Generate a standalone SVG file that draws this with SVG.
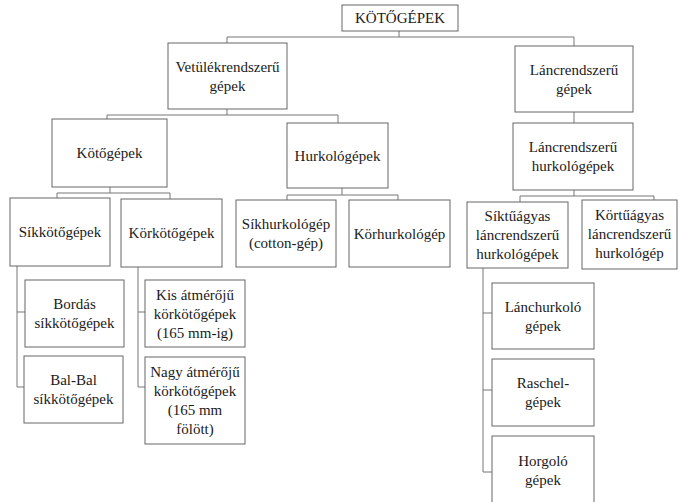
<svg xmlns="http://www.w3.org/2000/svg" width="679" height="502" viewBox="0 0 679 502">
<style>
rect{fill:#fff;stroke:#666;stroke-width:1}
text{font-family:"Liberation Serif","Times New Roman",serif;font-size:15px;fill:#1a1a1a;text-anchor:middle;dominant-baseline:central}
#connectors path{fill:none;stroke:#777;stroke-width:1}
</style>
<rect x="0" y="0" width="679" height="502" style="stroke:none"/>
<g id="connectors">
<path d="M399,31V37M227,37H574M227,37V43M574,37V46"/>
<path d="M227,109V115M107,115H338M107,115V119M338,115V123"/>
<path d="M110,187V193M57,193H170M57,193V198M170,193V199"/>
<path d="M342,188V195M287,195H398M287,195V200M398,195V200"/>
<path d="M574,112V123"/>
<path d="M574,190V196M520,196H654M520,196V202M654,196V200"/>
<path d="M17,266V387M17,312H25M17,387H24"/>
<path d="M138,267V387M138,312H145M138,387H145"/>
<path d="M483,268V472M483,313H492M483,390H492M483,472H492"/>
</g>
<g id="title"><rect x="342" y="5" width="116" height="26"/><text x="400" y="18">KÖTŐGÉPEK</text></g>
<g id="vetulek"><rect x="168" y="43" width="119" height="66"/><text x="227.5" y="67">Vetülékrendszerű</text><text x="227.5" y="86">gépek</text></g>
<g id="lanc"><rect x="515" y="46" width="118" height="66"/><text x="574" y="70">Láncrendszerű</text><text x="574" y="89">gépek</text></g>
<g id="kotogepek"><rect x="52" y="119" width="115" height="68"/><text x="109.5" y="153">Kötőgépek</text></g>
<g id="hurkologepek"><rect x="287" y="123" width="101" height="65"/><text x="337.5" y="155.5">Hurkológépek</text></g>
<g id="lanchurk"><rect x="513" y="123" width="120" height="67"/><text x="573" y="147">Láncrendszerű</text><text x="573" y="166">hurkológépek</text></g>
<g id="sikkoto"><rect x="10" y="198" width="100" height="68"/><text x="60" y="232">Síkkötőgépek</text></g>
<g id="korkoto"><rect x="121" y="199" width="101" height="68"/><text x="171.5" y="233">Körkötőgépek</text></g>
<g id="sikhurk"><rect x="236" y="200" width="100" height="67"/><text x="286" y="224">Síkhurkológép</text><text x="286" y="243">(cotton-gép)</text></g>
<g id="korhurk"><rect x="349" y="200" width="101" height="67"/><text x="399.5" y="233.5">Körhurkológép</text></g>
<g id="siktu"><rect x="467" y="202" width="101" height="66"/><text x="517.5" y="216">Síktűágyas</text><text x="517.5" y="235">láncrendszerű</text><text x="517.5" y="254">hurkológépek</text></g>
<g id="kortu"><rect x="582" y="200" width="95" height="69"/><text x="629.5" y="215">Körtűágyas</text><text x="629.5" y="234">láncrendszerű</text><text x="629.5" y="253">hurkológép</text></g>
<g id="bordas"><rect x="25" y="280" width="99" height="67"/><text x="74.5" y="304">Bordás</text><text x="74.5" y="323">síkkötőgépek</text></g>
<g id="balbal"><rect x="24" y="356" width="99" height="67"/><text x="73.5" y="380">Bal-Bal</text><text x="73.5" y="399">síkkötőgépek</text></g>
<g id="kis"><rect x="145" y="280" width="100" height="67"/><text x="195" y="295">Kis átmérőjű</text><text x="195" y="314">körkötőgépek</text><text x="195" y="333">(165 mm-ig)</text></g>
<g id="nagy"><rect x="145" y="357" width="100" height="87"/><text x="195" y="372">Nagy átmérőjű</text><text x="195" y="391">körkötőgépek</text><text x="195" y="410">(165 mm</text><text x="195" y="429">fölött)</text></g>
<g id="lanchurkolo"><rect x="492" y="283" width="102" height="66"/><text x="543" y="307">Lánchurkoló</text><text x="543" y="326">gépek</text></g>
<g id="raschel"><rect x="492" y="359" width="102" height="67"/><text x="543" y="383">Raschel-</text><text x="543" y="402">gépek</text></g>
<g id="horgolo"><rect x="492" y="436" width="102" height="70"/><text x="543" y="461">Horgoló</text><text x="543" y="480">gépek</text></g>
</svg>
